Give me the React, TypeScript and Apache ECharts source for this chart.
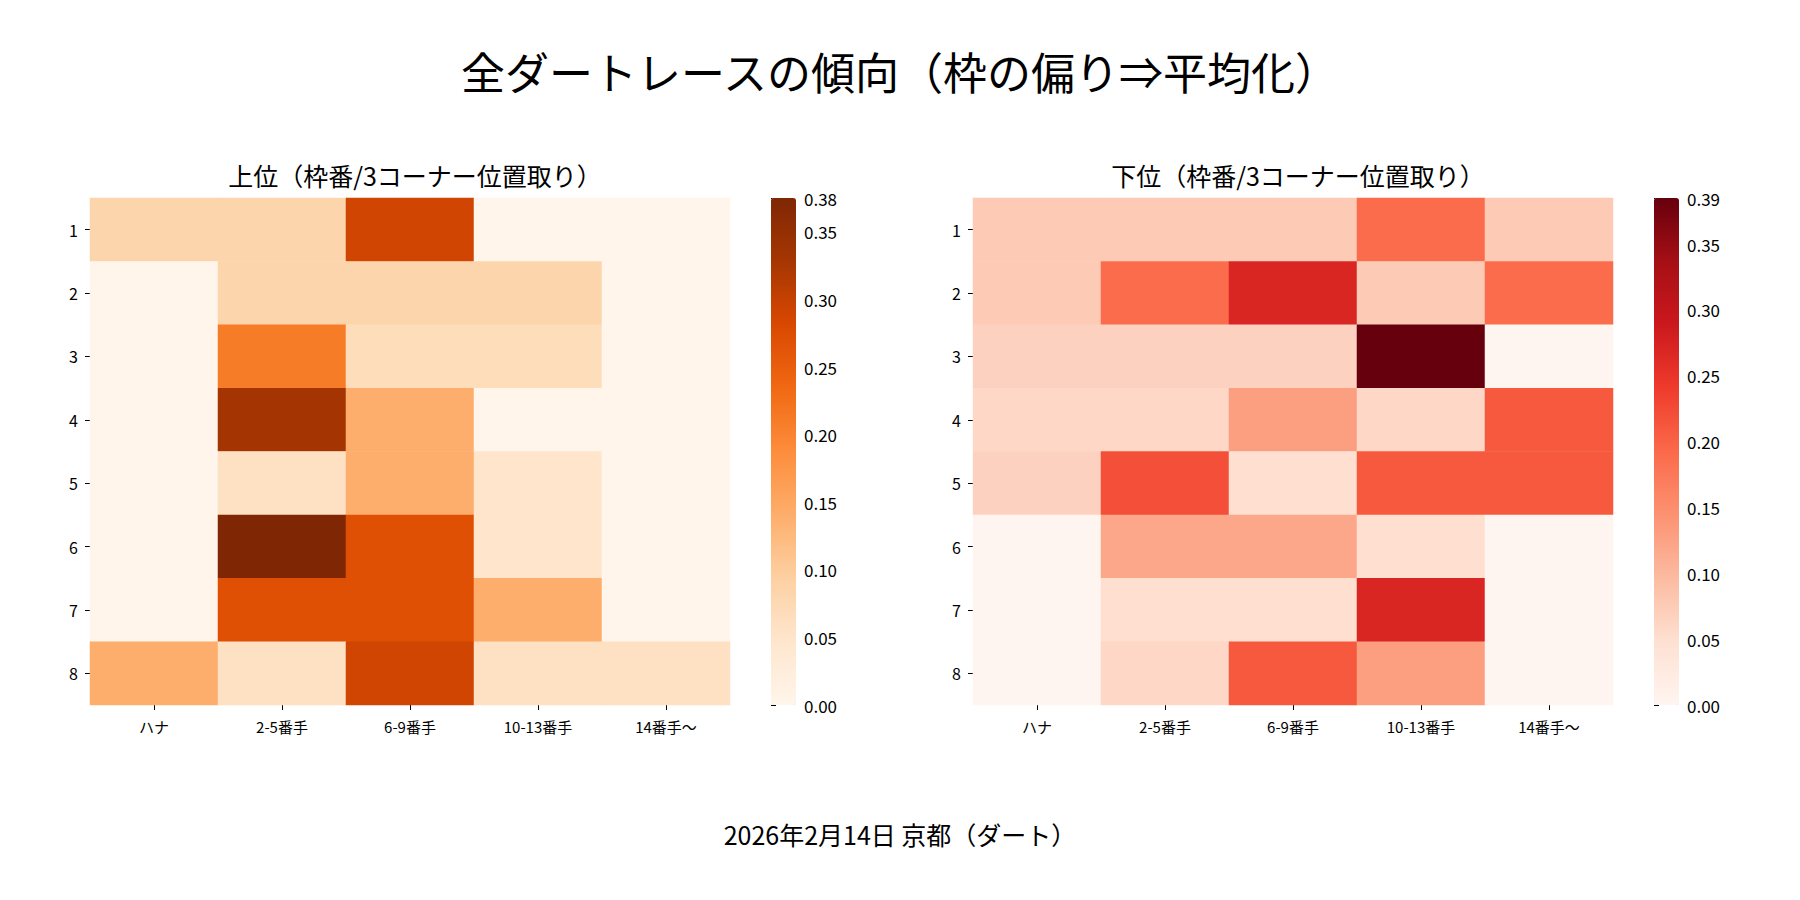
import React, { useEffect, useRef } from 'react';
import * as echarts from 'echarts';

const cols = ['ハナ', '2-5番手', '6-9番手', '10-13番手', '14番手〜'];
const rows = ['1', '2', '3', '4', '5', '6', '7', '8'];

const upper = [
  [0.083, 0.083, 0.29, 0, 0],
  [0, 0.083, 0.083, 0.083, 0],
  [0, 0.21, 0.067, 0.067, 0],
  [0, 0.33, 0.14, 0, 0],
  [0, 0.06, 0.14, 0.05, 0],
  [0, 0.375, 0.27, 0.05, 0],
  [0, 0.27, 0.27, 0.14, 0],
  [0.14, 0.06, 0.29, 0.06, 0.06],
];
const lower = [
  [0.077, 0.077, 0.077, 0.19, 0.077],
  [0.077, 0.19, 0.27, 0.077, 0.19],
  [0.067, 0.067, 0.067, 0.385, 0],
  [0.06, 0.06, 0.13, 0.06, 0.21],
  [0.067, 0.22, 0.05, 0.21, 0.21],
  [0, 0.12, 0.12, 0.05, 0],
  [0, 0.05, 0.05, 0.27, 0],
  [0, 0.06, 0.21, 0.13, 0],
];
const upperMax = 0.375;
const lowerMax = 0.385;
const colorTicks = ['0.00', '0.05', '0.10', '0.15', '0.20', '0.25', '0.30', '0.35'];

const oranges = ['#fff5eb', '#fee6ce', '#fdd0a2', '#fdae6b', '#fd8d3c', '#f16913', '#d94801', '#a63603', '#7f2704'];
const reds = ['#fff5f0', '#fee0d2', '#fcbba1', '#fc9272', '#fb6a4a', '#ef3b2c', '#cb181d', '#a50f15', '#67000d'];

const FONT = '"Noto Sans CJK JP", sans-serif';
const TOP = 198;
const H = 507;

const toCells = (m: number[][]) => {
  const out: number[][] = [];
  m.forEach((r, i) => r.forEach((v, j) => out.push([j, i, v])));
  return out;
};

const App = () => {
  const ref = useRef<HTMLDivElement>(null);

  useEffect(() => {
    if (!ref.current) return;
    const chart = echarts.init(ref.current, null, { renderer: 'svg' });
    const heatLefts = [90, 973];
    const barLefts = [771, 1654];
    const maxes = [upperMax, lowerMax];

    const grids: any[] = [];
    const xAxis: any[] = [];
    const yAxis: any[] = [];
    heatLefts.forEach((l) => grids.push({ left: l, top: TOP, width: 640, height: H }));
    barLefts.forEach((l) => grids.push({ left: l, top: TOP, width: 25, height: H }));

    [0, 1].forEach((k) => {
      xAxis.push({
        type: 'category', data: cols, gridIndex: k,
        axisLine: { show: false }, splitArea: { show: false },
        axisTick: { show: true, alignWithLabel: true, lineStyle: { color: '#000' } },
        axisLabel: { fontFamily: FONT, fontSize: 15, color: '#000', margin: 14 },
      });
      yAxis.push({
        type: 'category', data: rows, inverse: true, gridIndex: k,
        axisLine: { show: false },
        axisTick: { show: true, alignWithLabel: true, lineStyle: { color: '#000' } },
        axisLabel: { fontFamily: FONT, fontSize: 16, color: '#000', margin: 12 },
      });
    });
    [0, 1].forEach((k) => {
      xAxis.push({ type: 'value', gridIndex: 2 + k, show: false });
      yAxis.push({
        type: 'value', gridIndex: 2 + k, position: 'right', min: 0, max: maxes[k], interval: 0.05,
        axisLine: { show: false }, splitLine: { show: false },
        axisTick: { show: true, lineStyle: { color: '#000' } },
        axisLabel: { fontFamily: FONT, fontSize: 17, color: '#000', formatter: (v: number) => v.toFixed(2) },
      });
    });

    chart.setOption({
      animation: false,
      backgroundColor: '#fff',
      title: [
        { text: '全ダートレースの傾向（枠の偏り⇒平均化）', left: 'center', top: 44, textStyle: { fontFamily: FONT, fontSize: 44, fontWeight: 'normal', color: '#000' } },
        { text: '上位（枠番/3コーナー位置取り）', left: 410, textAlign: 'center', top: 157, textStyle: { fontFamily: FONT, fontSize: 25, fontWeight: 'normal', color: '#000' } },
        { text: '下位（枠番/3コーナー位置取り）', left: 1293, textAlign: 'center', top: 157, textStyle: { fontFamily: FONT, fontSize: 25, fontWeight: 'normal', color: '#000' } },
        { text: '2026年2月14日 京都（ダート）', left: 'center', top: 816, textStyle: { fontFamily: FONT, fontSize: 25, fontWeight: 'normal', color: '#000' } },
      ],
      grid: grids,
      xAxis,
      yAxis,
      visualMap: [
        { type: 'continuous', min: 0, max: upperMax, seriesIndex: 0, inRange: { color: oranges }, left: barLefts[0], top: TOP, itemWidth: 25, itemHeight: H, padding: 0, calculable: false, showLabel: false, text: ['', ''] },
        { type: 'continuous', min: 0, max: lowerMax, seriesIndex: 1, inRange: { color: reds }, left: barLefts[1], top: TOP, itemWidth: 25, itemHeight: H, padding: 0, calculable: false, showLabel: false, text: ['', ''] },
      ],
      series: [
        { type: 'heatmap', xAxisIndex: 0, yAxisIndex: 0, data: toCells(upper), itemStyle: { borderWidth: 0 } },
        { type: 'heatmap', xAxisIndex: 1, yAxisIndex: 1, data: toCells(lower), itemStyle: { borderWidth: 0 } },
      ],
    });
    return () => chart.dispose();
  }, []);

  return <div ref={ref} style={{ position: 'absolute', left: 0, top: 0, width: 1800, height: 900 }} />;
};

export default App;
